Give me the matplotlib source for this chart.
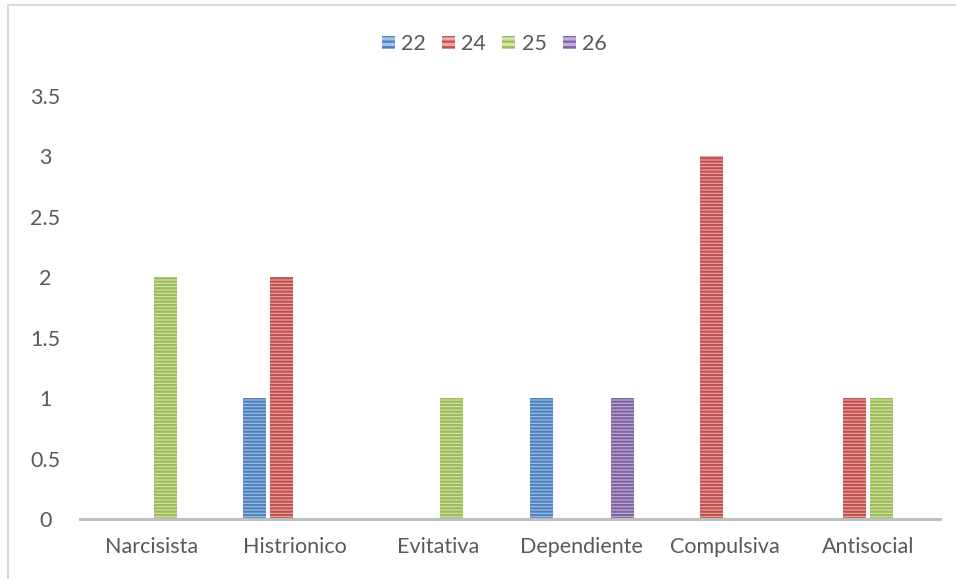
import numpy as np
import matplotlib.pyplot as plt
from matplotlib.lines import Line2D

categories = ['Narcisista', 'Histrionico', 'Evitativa', 'Dependiente', 'Compulsiva', 'Antisocial']
series_names = ['22', '24', '25', '26']
s22 = [0, 1, 0, 1, 0, 0]
s24 = [0, 2, 0, 0, 3, 1]
s25 = [2, 0, 1, 0, 0, 1]
s26 = [0, 0, 0, 1, 0, 0]
series = [s22, s24, s25, s26]
colors = ['#4F81BD', '#C0504D', '#9BBB59', '#8064A2']
light = ['#A4C0E6', '#EBAAA8', '#D2E4AC', '#C0ACD8']

plt.rcParams['font.family'] = ['Lato', 'DejaVu Sans']
plt.rcParams['hatch.linewidth'] = 1.6

fig = plt.figure(figsize=(9.56, 5.79), dpi=100)
ax = fig.add_axes([80 / 956, 1 - 519 / 579, 860 / 956, 423 / 579])

x = np.arange(len(categories))
step = 0.188
width = 0.16
for i, (vals, c, lc) in enumerate(zip(series, colors, light)):
    pos = x + (i - 1.5) * step
    ax.bar(pos, vals, width, color=lc, edgecolor=c, hatch='-----', linewidth=0,
           label=series_names[i])

ax.set_xlim(-0.5, 5.5)
ax.set_ylim(0, 3.5)
ax.set_yticks(np.arange(0, 3.51, 0.5))
ax.set_yticklabels(['0', '0.5', '1', '1.5', '2', '2.5', '3', '3.5'])
ax.set_xticks(x)
ax.set_xticklabels(categories)
for s in ['top', 'right', 'left']:
    ax.spines[s].set_visible(False)
ax.spines['bottom'].set_color('#BFBFBF')
ax.spines['bottom'].set_linewidth(2.2)
ax.tick_params(axis='both', length=0, labelsize=15.5, colors='#595959')
ax.tick_params(axis='x', pad=13)
ax.tick_params(axis='y', pad=25)
for lab in ax.get_yticklabels():
    lab.set_horizontalalignment('center')

handles = [plt.Rectangle((0, 0), 1, 1, facecolor=lc, edgecolor=c, hatch='---', linewidth=0)
           for c, lc in zip(colors, light)]
fig.legend(handles, series_names, loc='center', bbox_to_anchor=(0.517, 1 - 44 / 579), ncol=4,
           frameon=False, fontsize=15.5, handlelength=0.6, handleheight=0.6,
           handletextpad=0.3, columnspacing=0.75, labelcolor='#595959')

# chart border (left and top)
fig.add_artist(Line2D([8 / 956, 8 / 956], [0, 1 - 5 / 579], color='#D9D9D9', lw=1.5,
                      transform=fig.transFigure))
fig.add_artist(Line2D([8 / 956, 1], [1 - 5 / 579, 1 - 5 / 579], color='#D9D9D9', lw=1.5,
                      transform=fig.transFigure))

fig.savefig('out.png', dpi=100)
